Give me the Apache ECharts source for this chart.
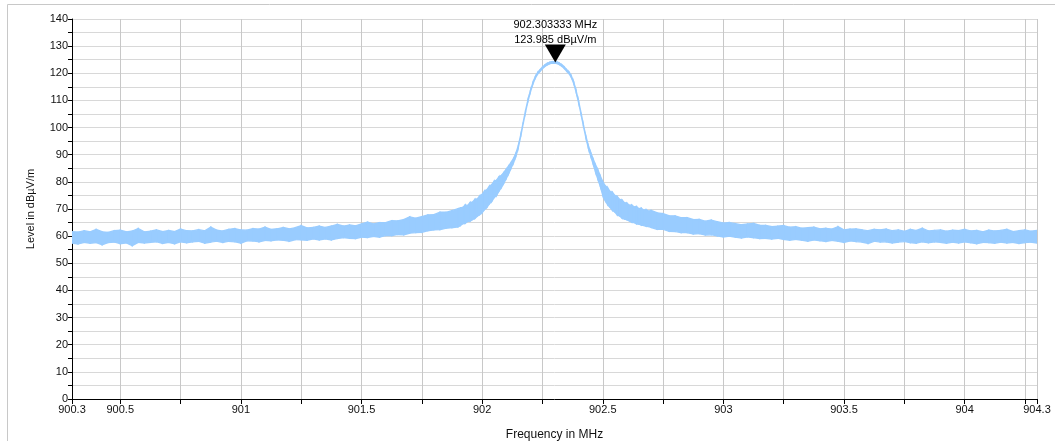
<!DOCTYPE html>
<html>
<head>
<meta charset="utf-8">
<script src="https://cdn.jsdelivr.net/npm/echarts@6/dist/echarts.min.js"></script>
<style>
html,body{margin:0;padding:0;background:#fff;}
#chart{width:1055px;height:441px;}
</style>
</head>
<body>
<div id="chart"></div>
<script>
// Frequency samples (MHz)
const freq = [
900.300,900.325,900.350,900.375,900.400,900.425,900.450,900.475,900.500,900.525,900.550,900.575,900.600,900.625,900.650,900.675,
900.700,900.725,900.750,900.775,900.800,900.825,900.850,900.875,900.900,900.925,900.950,900.975,901.000,901.025,901.050,901.075,
901.100,901.125,901.150,901.175,901.200,901.225,901.250,901.275,901.300,901.325,901.350,901.375,901.400,901.425,901.450,901.475,
901.500,901.525,901.550,901.575,901.600,901.625,901.650,901.675,901.700,901.725,901.750,901.775,901.800,901.825,901.850,901.875,901.900,
901.91,901.92,901.93,901.94,901.95,901.96,901.97,901.98,901.99,902.00,902.01,902.02,902.03,902.04,902.05,902.06,902.07,902.08,902.09,
902.10,902.11,902.12,902.13,902.14,902.15,902.16,902.17,902.18,902.19,902.20,902.21,902.22,902.23,902.24,902.25,902.26,902.27,902.28,902.29,
902.30,902.31,902.32,902.33,902.34,902.35,902.36,902.37,902.38,902.39,902.40,902.41,902.42,902.43,902.44,902.45,902.46,902.47,902.48,902.49,
902.50,902.51,902.52,902.53,902.54,902.55,902.56,902.57,902.58,902.59,902.60,902.61,902.62,902.63,902.64,902.65,902.66,902.67,902.68,902.69,
902.700,902.725,902.750,902.775,902.800,902.825,902.850,902.875,902.900,902.925,902.950,902.975,903.000,903.025,903.050,903.075,
903.100,903.125,903.150,903.175,903.200,903.225,903.250,903.275,903.300,903.325,903.350,903.375,903.400,903.425,903.450,903.475,
903.500,903.525,903.550,903.575,903.600,903.625,903.650,903.675,903.700,903.725,903.750,903.775,903.800,903.825,903.850,903.875,
903.900,903.925,903.950,903.975,904.000,904.025,904.050,904.075,904.100,904.125,904.150,904.175,904.200,904.225,904.250,904.275,904.300
];
// Lower envelope of the trace (dBµV/m)
const levelLow = [
57.4,57.1,57.7,57.4,57.6,56.8,57.6,57.8,57.2,57.5,56.5,57.7,57.5,57.7,57.9,57.3,
57.7,57.2,57.9,57.6,57.9,58.1,57.4,57.8,58.1,57.7,58.1,57.9,57.4,58.3,58.2,57.9,
58.4,58.3,58.6,58.5,58.1,58.7,58.6,58.5,59.0,58.6,59.0,58.6,59.1,59.4,59.2,59.1,
59.6,59.5,59.9,59.6,60.2,60.2,60.6,60.5,61.1,61.3,61.4,62.0,62.3,62.4,62.9,63.1,63.4,
63.9,64.6,64.7,65.4,65.5,66.1,66.5,67.3,67.9,68.6,69.8,70.6,71.9,72.8,74.2,75.0,76.6,77.9,79.5,
81.2,83.0,85.0,87.0,89.4,92.6,96.7,101.3,105.7,109.7,113.0,115.9,118.1,119.7,120.7,121.7,122.5,123.1,123.5,123.7,
123.7,123.6,123.2,122.6,121.8,120.8,119.9,118.4,116.1,112.9,109.1,104.9,100.4,96.3,92.5,89.5,86.6,83.6,80.9,78.3,
75.0,73.1,71.6,70.6,69.5,68.9,67.8,67.4,66.6,66.3,66.0,65.6,65.1,65.0,64.5,64.4,64.0,63.9,63.6,63.5,
63.2,62.5,62.5,61.8,61.7,61.3,61.3,60.8,60.9,60.4,60.5,60.1,59.7,60.0,59.6,59.3,
59.7,59.4,59.1,59.2,58.9,59.2,58.8,58.5,58.8,58.5,58.1,58.6,58.3,58.0,58.4,58.1,
57.7,58.2,58.0,57.8,57.3,58.1,57.8,57.9,57.5,57.8,58.0,57.6,57.4,57.9,57.6,57.9,
57.7,57.4,57.8,57.5,57.9,57.6,57.2,57.7,57.6,57.4,57.8,57.5,57.7,57.3,57.6,57.8,57.4
];
// Upper envelope of the trace (dBµV/m)
const levelHigh = [
61.7,61.5,62.0,61.6,62.5,61.6,61.4,62.0,62.2,61.6,61.9,62.8,61.6,61.8,62.3,61.7,
62.1,61.7,62.6,62.0,61.9,62.4,62.0,63.3,62.2,61.9,62.5,62.8,62.3,62.2,62.8,62.6,
63.3,62.5,62.7,63.2,62.7,63.1,63.9,63.0,63.2,63.7,63.2,63.7,64.3,63.7,64.1,63.8,
64.5,65.2,64.5,65.0,65.0,65.7,65.6,66.1,67.1,66.6,67.2,67.8,67.9,68.8,68.8,69.4,70.1,
70.4,70.6,71.5,71.3,72.4,72.5,73.6,73.7,74.9,75.4,76.7,77.1,78.4,79.0,80.3,80.6,81.9,82.4,83.5,
84.7,85.9,87.2,88.6,90.6,93.4,97.3,101.9,106.3,110.3,113.6,116.5,118.7,120.3,121.3,122.3,123.1,123.7,124.1,124.3,
124.3,124.2,123.8,123.2,122.4,121.4,120.5,119.0,116.7,113.5,109.7,105.5,101.0,96.9,93.5,90.9,88.5,86.3,84.4,82.2,
80.1,78.6,77.9,76.5,76.2,75.0,74.6,73.5,73.3,72.3,72.2,71.4,71.5,70.8,70.9,70.1,70.3,69.6,69.8,69.2,
69.5,68.6,68.3,67.5,67.5,66.8,66.8,66.1,66.2,65.5,65.9,65.3,64.8,65.0,64.6,64.2,
64.5,64.7,64.0,64.0,63.5,63.7,63.9,63.3,63.5,62.9,63.1,63.3,62.7,62.9,62.6,63.5,
62.3,62.6,62.7,62.3,62.0,62.5,62.3,62.6,62.0,62.3,61.8,62.5,62.1,62.9,61.9,62.1,
62.3,61.8,62.2,62.0,62.5,61.9,62.1,61.6,62.2,61.9,62.1,62.5,61.7,62.0,62.3,61.8,62.1
];
// Peak marker
const peakFreq = [902.303333];
const peakLevel = [123.985];
// Axis ticks / labels
const xLabelValues = [900.3,900.5,901,901.5,902,902.5,903,903.5,904,904.3];
const xGridValues = [900.3,900.5,900.75,901,901.25,901.5,901.75,902,902.25,902.5,902.75,903,903.25,903.5,903.75,904,904.25,904.3];
const yMin = 0, yMax = 140, yStep = 5, yLabelStep = 10;

const FONT = '"Liberation Sans", Arial, Helvetica, sans-serif';
const TRACE = '#99ccff';

const chart = echarts.init(document.getElementById('chart'), null, {renderer: 'canvas'});
const bandData = freq.map((f, i) => [f, levelLow[i], levelHigh[i]]);

chart.setOption({
  backgroundColor: '#ffffff',
  animation: false,
  graphic: [{
    type: 'rect', silent: true, z: -10,
    shape: {x: 7.5, y: 4.5, width: 1200, height: 600},
    style: {fill: 'none', stroke: '#c8c8c8', lineWidth: 1}
  }],
  grid: {left: 72, right: 18, top: 19, bottom: 42, containLabel: false, outerBoundsMode: 'none'},
  xAxis: {
    type: 'value', min: 900.3, max: 904.3,
    name: 'Frequency in MHz', nameLocation: 'middle', nameGap: 30,
    nameTextStyle: {fontFamily: FONT, fontSize: 12, color: '#111'},
    axisLine: {show: true, onZero: false, lineStyle: {color: '#000', width: 1}},
    axisTick: {show: true, customValues: xGridValues, length: 5, inside: false, lineStyle: {color: '#000'}},
    axisLabel: {customValues: xLabelValues, fontFamily: FONT, fontSize: 11, color: '#111', margin: 5, hideOverlap: false},
    splitLine: {show: true, lineStyle: {color: '#c8c8c8', width: 1}}
  },
  yAxis: {
    type: 'value', min: yMin, max: yMax, interval: yStep,
    name: 'Level in dBµV/m', nameLocation: 'middle', nameGap: 36,
    nameTextStyle: {fontFamily: FONT, fontSize: 11, color: '#111'},
    axisLine: {show: true, onZero: false, lineStyle: {color: '#000', width: 1}},
    axisTick: {show: true, length: 4, lineStyle: {color: '#000'}},
    axisLabel: {fontFamily: FONT, fontSize: 11, color: '#111', margin: 4,
      formatter: v => (v % yLabelStep === 0 ? String(v) : '')},
    splitLine: {show: true, lineStyle: {color: '#d8d8d8', width: 1}}
  },
  series: [
    {
      type: 'custom',
      name: 'Level',
      data: bandData,
      encode: {x: 0, y: [1, 2]},
      clip: true,
      z: 3,
      renderItem: function (params, api) {
        const i = params.dataIndex;
        if (i >= freq.length - 1) return null;
        const p1 = api.coord([freq[i], levelHigh[i]]);
        const p2 = api.coord([freq[i + 1], levelHigh[i + 1]]);
        const p3 = api.coord([freq[i + 1], levelLow[i + 1]]);
        const p4 = api.coord([freq[i], levelLow[i]]);
        return {
          type: 'polygon',
          shape: {points: [p1, p2, p3, p4]},
          style: {fill: TRACE, stroke: TRACE, lineWidth: 1.3}
        };
      }
    },
    {
      type: 'scatter',
      name: 'Peak',
      data: peakFreq.map((f, i) => [f, peakLevel[i]]),
      symbol: 'triangle',
      symbolRotate: 180,
      symbolSize: [21, 18],
      symbolOffset: [0, -9],
      itemStyle: {color: '#000', opacity: 1},
      z: 5,
      label: {
        show: true, position: 'top', distance: 0, offset: [0, 3],
        fontFamily: FONT, fontSize: 11, color: '#000', lineHeight: 15, align: 'center',
        formatter: p => p.value[0].toFixed(6) + ' MHz\n' + p.value[1].toFixed(3) + ' dBµV/m'
      }
    }
  ]
});
</script>
</body>
</html>
